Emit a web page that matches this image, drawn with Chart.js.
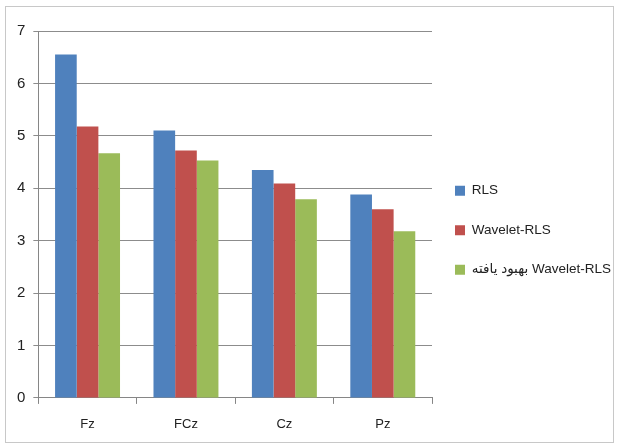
<!DOCTYPE html>
<html>
<head>
<meta charset="utf-8">
<script src="https://cdn.jsdelivr.net/npm/chart.js@4.4.1/dist/chart.umd.min.js"></script>
<style>
  html, body { margin: 0; padding: 0; background: #fff; }
  #wrap { position: relative; width: 619px; height: 447px; }
  #frame { position: absolute; left: 5px; top: 6px; width: 607px; height: 435px; border: 1px solid #c8c8c8; pointer-events: none; }
</style>
</head>
<body>
<div id="wrap">
  <canvas id="chart" width="619" height="447"></canvas>
  <div id="frame"></div>
</div>
<script>
// electrodes and series values
const categories = ['Fz', 'FCz', 'Cz', 'Pz'];
const rls = [6.55, 5.10, 4.35, 3.88];
const waveletRls = [5.18, 4.72, 4.09, 3.60];
const improvedWaveletRls = [4.67, 4.53, 3.79, 3.18];
const yTicks = [0, 1, 2, 3, 4, 5, 6, 7];

const FONT = '"Liberation Sans", "DejaVu Sans", sans-serif';

// the persian label is measured too narrow, so fix the legend width and nudge it
const legendBox = {
    id: 'legendBox',
    afterInit(chart) {
        const legend = chart.legend;
        const fit = legend.fit;
        legend.fit = function() {
            fit.call(this);
            this.width = 187;
        };
    },
    afterLayout(chart) {
        const legend = chart.legend;
        legend.left -= 3;
        legend.right -= 3;
        legend.top -= 8;
        legend.bottom -= 8;
    }
};

new Chart(document.getElementById('chart'), {
    type: 'bar',
    data: {
        labels: categories,
        datasets: [
            { label: 'RLS', data: rls, backgroundColor: '#4F81BD' },
            { label: 'Wavelet-RLS', data: waveletRls, backgroundColor: '#C0504D' },
            { label: 'بهبود یافته Wavelet-RLS', data: improvedWaveletRls, backgroundColor: '#9BBB59' }
        ]
    },
    options: {
        responsive: false,
        animation: false,
        devicePixelRatio: 1,
        categoryPercentage: 0.66,
        barPercentage: 1,
        layout: { padding: { left: 9, top: 31, right: 0, bottom: 1.5 } },
        scales: {
            x: {
                grid: { offset: true, drawOnChartArea: false, color: '#868686', tickLength: 6 },
                border: { color: '#868686' },
                ticks: { color: '#222', font: { family: FONT, size: 13 }, padding: 13 }
            },
            y: {
                min: 0,
                max: 7,
                afterBuildTicks: function(axis) {
                    axis.ticks = yTicks.map(v => ({ value: v }));
                },
                grid: { color: '#8c8c8c', tickLength: 5 },
                border: { color: '#868686' },
                ticks: { color: '#222', font: { family: FONT, size: 15 }, padding: 8 }
            }
        },
        plugins: {
            legend: {
                position: 'right',
                labels: {
                    color: '#222',
                    font: { family: FONT, size: 13.5 },
                    boxWidth: 10,
                    boxHeight: 10,
                    padding: 26
                }
            },
            tooltip: { enabled: false }
        }
    },
    plugins: [legendBox]
});
</script>
</body>
</html>
